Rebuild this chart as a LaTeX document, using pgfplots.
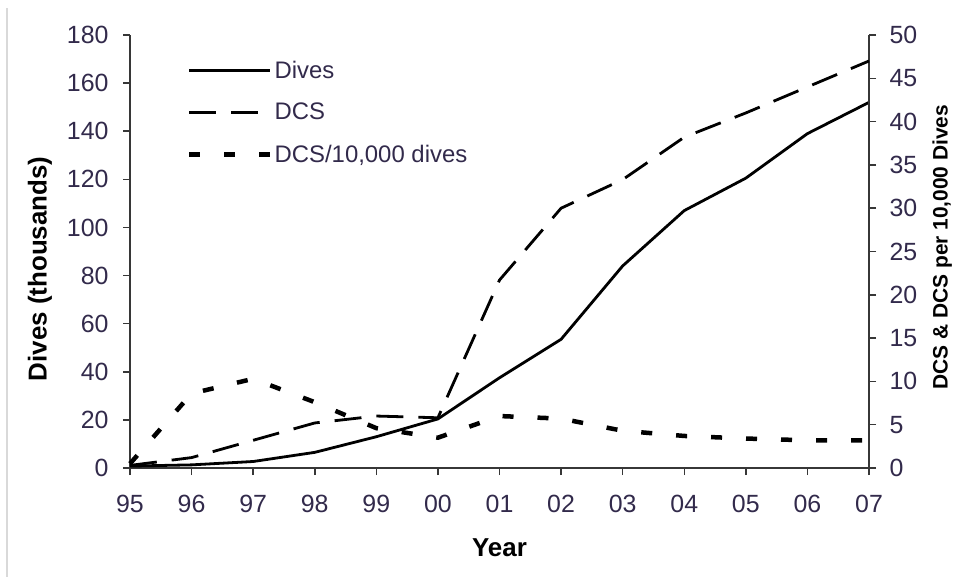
\documentclass[border=0pt]{standalone}
\usepackage{pgfplots}
\pgfplotsset{compat=1.18}
\usepackage{fontspec}
\setmainfont{Liberation Sans}
\definecolor{tickc}{RGB}{50,42,75}
\definecolor{axc}{RGB}{55,55,55}
\begin{document}
\begin{tikzpicture}
\useasboundingbox (0,0) rectangle (958bp,577bp);
\draw[black!15, line width=1.5bp] (7bp,0bp) -- (7bp,569bp);
\pgfplotsset{
  base/.style={
    at={(130bp,109bp)}, anchor=south west,
    scale only axis, width=739bp, height=433bp,
    xmin=95, xmax=107,
    xtick={95,...,107},
    tick align=outside,
    major tick length=7bp,
    clip=false,
    axis line style={axc, line width=1.5bp},
    every tick/.style={axc, line width=1.5bp},
    tick label style={font=\fontsize{25}{29}\selectfont, text=tickc},
    /pgf/number format/assume math mode=true,
  }
}
\begin{axis}[base,
  axis x line*=bottom, axis y line*=left,
  ymin=0, ymax=180, ytick={0,20,...,180},
  xticklabels={95,96,97,98,99,00,01,02,03,04,05,06,07},
  xticklabel style={yshift=-17bp},
  yticklabel style={xshift=-11bp},
  xlabel={Year}, ylabel={Dives (thousands)},
  every axis x label/.style={at={(axis description cs:0.5,-0.185)}, anchor=center, font=\bfseries\fontsize{26}{30}\selectfont},
  every axis y label/.style={at={(axis description cs:-0.122,0.46)}, rotate=90, anchor=center, font=\bfseries\fontsize{26}{30}\selectfont},
]
\addplot[black, line width=2.8bp, line join=round] coordinates {
(95,0.8) (96,1.3) (97,2.7) (98,6.5) (99,13) (100,20.4) (101,37.5) (102,53.5) (103,84) (104,107) (105,120.5) (106,139) (107,152)
};
\end{axis}
\begin{axis}[base,
  axis x line=none, axis y line*=right,
  ymin=0, ymax=50, ytick={0,5,...,50},
  yticklabel style={xshift=10bp},
  ylabel={DCS \& DCS per 10,000 Dives},
  every axis y label/.style={at={(axis description cs:1.099,0.51)}, rotate=90, anchor=center, font=\bfseries\fontsize{21}{25}\selectfont},
  legend style={draw=none, fill=none, at={(axis description cs:0.077,0.945)}, anchor=north west, font=\fontsize{24}{28}\selectfont, text=tickc, row sep=19.5bp, inner sep=0pt},
  legend cell align=left,
  legend image code/.code={\draw[#1] (0bp,0bp) -- (81bp,0bp);},
]
\addlegendimage{black, line width=2.8bp}
\addlegendentry{Dives}
\addplot[black, line width=2.8bp, line join=round, dash pattern=on 27bp off 15bp] coordinates {
(95,0.3) (96,1.2) (97,3.2) (98,5.2) (99,6.0) (100,5.8) (101,21.7) (102,30.0) (103,33.3) (104,38.2) (105,41.0) (106,44.0) (107,47.0)
};
\addlegendentry{DCS}
\addplot[black, line width=4.5bp, dash pattern=on 11bp off 24bp] coordinates {
(95,0.5) (96,8.6) (97,10.3) (98,7.6) (99,4.6) (100,3.5) (101,6.0) (102,5.7) (103,4.3) (104,3.7) (105,3.4) (106,3.2) (107,3.2)
};
\addlegendentry{DCS/10,000 dives}
\end{axis}
\end{tikzpicture}
\end{document}
